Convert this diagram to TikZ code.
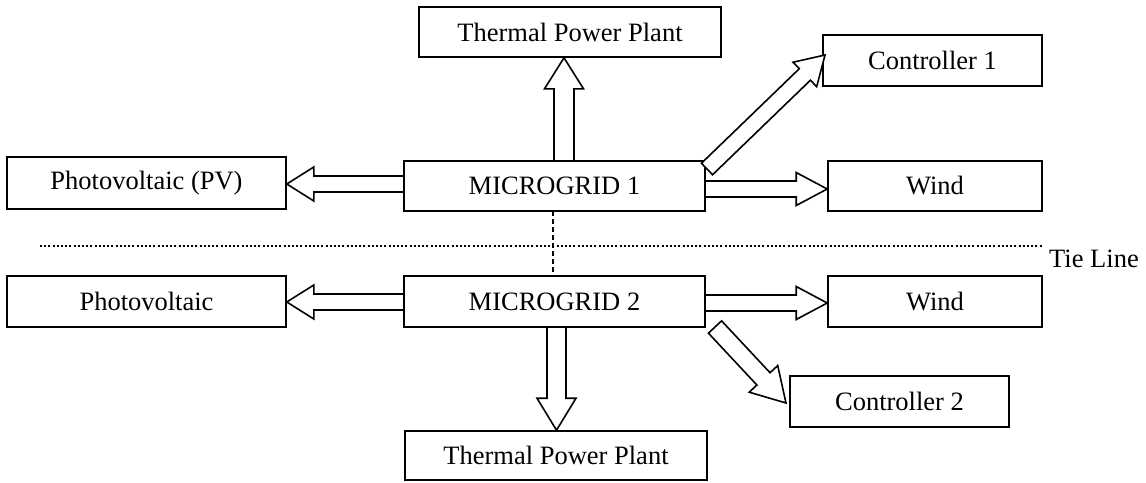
\documentclass[tikz,border=0pt]{standalone}
\usepackage{fontspec}
\setmainfont{Liberation Serif}
\usetikzlibrary{calc}
\tikzset{
  box/.style={draw, line width=1.6pt, rectangle, inner sep=0pt, font=\fontsize{26.5}{30}\selectfont},
  barrow/.style={draw, line width=1.6pt, line join=miter, fill=white},
  tieline/.style={line width=1.8pt, dash pattern=on 2pt off 2.2pt},
  tiedash/.style={line width=1.8pt, dash pattern=on 5pt off 3pt},
  lbl/.style={font=\fontsize{26.5}{30}\selectfont, inner sep=0pt}
}
\newcommand\blockarrow[5]{%
  \path let \p1=($(#2)-(#1)$) in \pgfextra{%
    \pgfmathsetmacro\bxang{atan2(\y1,\x1)}%
    \pgfmathsetmacro\bxlen{veclen(\x1,\y1)}%
    \xdef\bxangG{\bxang}\xdef\bxlenG{\bxlen}};
  \draw[barrow, shift={(#1)}, rotate=\bxangG] (0,#3) -- ({\bxlenG-#5},#3) -- ({\bxlenG-#5},#4) -- (\bxlenG,0) -- ({\bxlenG-#5},-#4) -- ({\bxlenG-#5},-#3) -- (0,-#3) -- cycle;
}
\begin{document}
\begin{tikzpicture}[x=1pt,y=-1pt]
\useasboundingbox (0,0) rectangle (1146,482);
% boxes
\node[box, minimum width=302, minimum height=50] (tpp1) at (570,32) {Thermal Power Plant};
\node[box, minimum width=219, minimum height=51] (ctl1) at (932.5,60.5) {Controller 1};
\node[box, minimum width=279, minimum height=52] (pv1) at (146.5,183) {Photovoltaic (PV)};
\node[box, minimum width=301, minimum height=50] (mg1) at (554.5,186) {MICROGRID 1};
\node[box, minimum width=214, minimum height=50] (wind1) at (935,186) {Wind};
\node[box, minimum width=279, minimum height=51] (pv2) at (146.5,301.5) {Photovoltaic};
\node[box, minimum width=301, minimum height=51] (mg2) at (554.5,301.5) {MICROGRID 2};
\node[box, minimum width=214, minimum height=51] (wind2) at (935,301.5) {Wind};
\node[box, minimum width=219, minimum height=51] (ctl2) at (899.5,401.5) {Controller 2};
\node[box, minimum width=302, minimum height=49] (tpp2) at (556,455.5) {Thermal Power Plant};
% tie line
\coordinate (tl0) at (40,246);
\coordinate (tl1) at (1042,246);
\draw[tieline] (tl0) -- (tl1);
\node[lbl, anchor=west] (tie) at (1049,259) {Tie Line};
\coordinate (d0) at (553,211);
\coordinate (d1) at (553,276);
\draw[tiedash] (d0) -- (d1);
% arrow end points
\coordinate (u1s) at (564,161);
\coordinate (u1e) at (u1s |- tpp1.south);
\coordinate (l1s) at (404,184);
\coordinate (l1e) at (pv1.east |- l1s);
\coordinate (r1s) at (705,189);
\coordinate (r1e) at (wind1.west |- r1s);
\coordinate (c1s) at (707,169);
\coordinate (c1e) at (825,55);
\coordinate (l2s) at (404,302);
\coordinate (l2e) at (pv2.east |- l2s);
\coordinate (r2s) at (705,303);
\coordinate (r2e) at (wind2.west |- r2s);
\coordinate (c2s) at (715,327);
\coordinate (c2e) at (786,403);
\coordinate (b2s) at (556.5,327);
\coordinate (b2e) at (b2s |- tpp2.north);
% block arrows
\blockarrow{u1s}{u1e}{10}{19.5}{31}
\blockarrow{l1s}{l1e}{8}{17}{27}
\blockarrow{r1s}{r1e}{8}{16.5}{31}
\blockarrow{c1s}{c1e}{8}{17}{28}
\blockarrow{l2s}{l2e}{8}{17}{27}
\blockarrow{r2s}{r2e}{8}{16.5}{31}
\blockarrow{c2s}{c2e}{9}{19.5}{33}
\blockarrow{b2s}{b2e}{9.5}{19.5}{32}
\end{tikzpicture}
\end{document}
